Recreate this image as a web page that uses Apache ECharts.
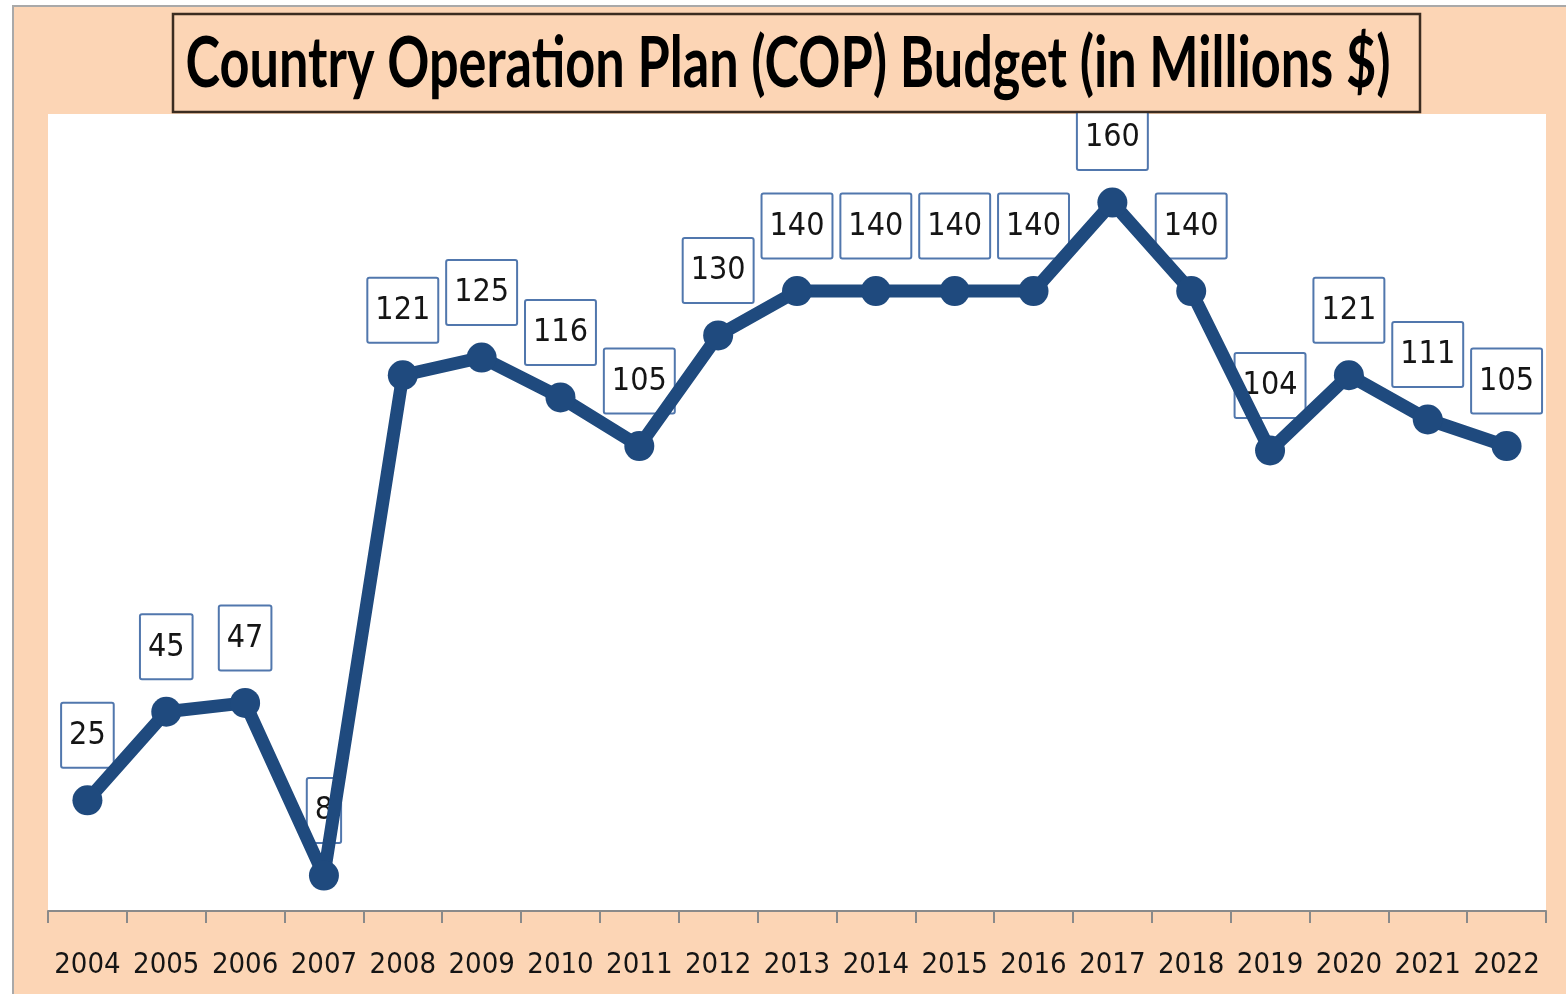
<!DOCTYPE html>
<html>
<head>
<meta charset="utf-8">
<title>COP Budget</title>
<script src="https://cdn.jsdelivr.net/npm/echarts@6/dist/echarts.min.js"></script>
<style>
  html, body { margin: 0; padding: 0; background: #fff; }
  #chart { width: 1566px; height: 994px; }
</style>
</head>
<body>
<div id="chart"></div>
<script>
// data
var years = ['2004', '2005', '2006', '2007', '2008', '2009', '2010', '2011', '2012', '2013',
             '2014', '2015', '2016', '2017', '2018', '2019', '2020', '2021', '2022'];
var budget = [25, 45, 47, 8, 121, 125, 116, 105, 130, 140, 140, 140, 140, 160, 140, 104, 121, 111, 105];
var titleText = 'Country Operation Plan (COP) Budget (in Millions $)';

var narrow = "'DejaVu Sans Condensed', 'DejaVu Sans', sans-serif";
var titleFont = "bold 70px Lato, 'DejaVu Sans Condensed', sans-serif";
var peach = '#fcd5b5';
var navy = '#1f4a7e';

// squeeze the title so it fits the box like the condensed original
var ctx = document.createElement('canvas').getContext('2d');
ctx.font = titleFont;
var titleScale = 1205 / ctx.measureText(titleText).width;

var myChart = echarts.init(document.getElementById('chart'));

var option = {
    backgroundColor: '#fff',
    animation: false,
    graphic: [
        {
            // peach panel with thin gray edge
            type: 'rect',
            z: -10,
            shape: { x: 13, y: 6, width: 1560, height: 995 },
            style: { fill: peach, stroke: '#a9a9a9', lineWidth: 2 }
        },
        {
            type: 'rect',
            z: 10,
            shape: { x: 173, y: 14, width: 1247, height: 98 },
            style: { fill: peach, stroke: '#3b2c20', lineWidth: 2.5 }
        },
        {
            type: 'text',
            z: 11,
            x: 788,
            y: 64,
            scaleX: titleScale,
            style: {
                text: titleText,
                fill: '#000',
                font: titleFont,
                align: 'center',
                verticalAlign: 'middle'
            }
        }
    ],
    grid: {
        show: true,
        backgroundColor: '#fff',
        borderWidth: 0,
        left: 48,
        right: 20,
        top: 114,
        bottom: 83,
        containLabel: false
    },
    xAxis: {
        type: 'category',
        data: years,
        boundaryGap: true,
        axisLine: { lineStyle: { color: '#8a8a8a', width: 2 } },
        axisTick: { show: true, interval: 0, length: 12, lineStyle: { color: '#8a8a8a', width: 2 } },
        axisLabel: {
            interval: 0,
            margin: 40,
            color: '#151515',
            fontSize: 29,
            fontFamily: narrow
        }
    },
    yAxis: {
        type: 'value',
        min: 0,
        max: 180,
        show: false,
        splitLine: { show: false }
    },
    series: [
        {
            // labels only, kept under the line like in the picture
            name: 'labels',
            type: 'line',
            z: 1,
            data: budget,
            symbol: 'circle',
            symbolSize: 1,
            itemStyle: { color: 'rgba(0,0,0,0)' },
            lineStyle: { opacity: 0 },
            label: {
                show: true,
                position: 'top',
                distance: 33,
                color: '#151515',
                fontSize: 32,
                fontFamily: narrow,
                lineHeight: 40,
                backgroundColor: '#fff',
                borderColor: '#5177ad',
                borderWidth: 2,
                borderRadius: 1,
                padding: [12, 7, 11, 7]
            }
        },
        {
            name: 'COP Budget',
            type: 'line',
            z: 3,
            data: budget,
            symbol: 'circle',
            symbolSize: 30,
            itemStyle: { color: navy },
            lineStyle: { color: navy, width: 13 }
        }
    ]
};

myChart.setOption(option);
window.onresize = myChart.resize;
</script>
</body>
</html>
